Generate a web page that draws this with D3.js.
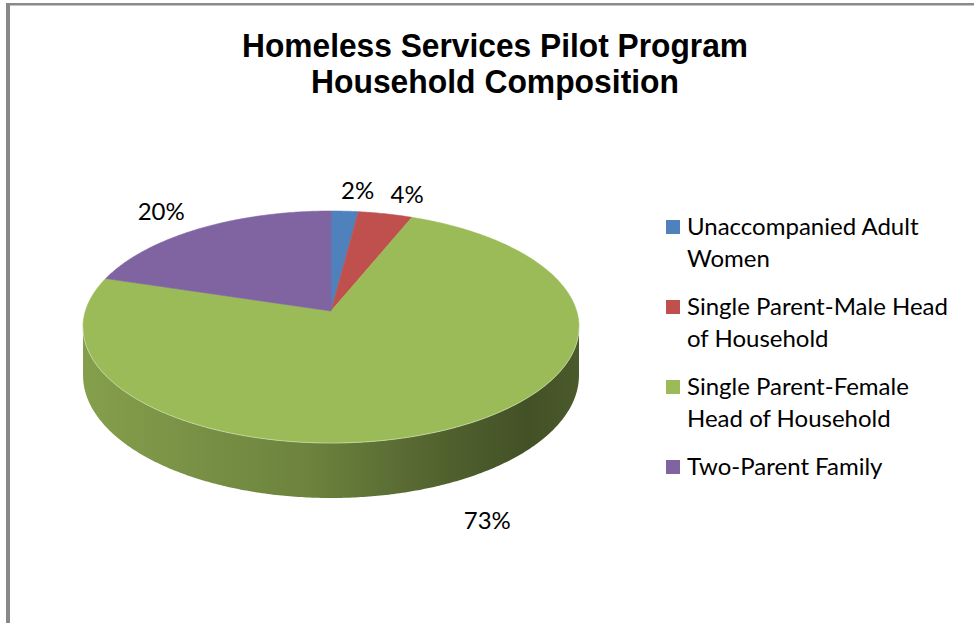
<!DOCTYPE html>
<html>
<head>
<meta charset="utf-8">
<script src="https://cdn.jsdelivr.net/npm/d3@7"></script>
<style>
  html, body { margin: 0; padding: 0; background: #fff; }
  svg { display: block; }
</style>
</head>
<body>
<svg id="chart" width="974" height="623"></svg>
<script>
// ---- data ----
const titleLines = ["Homeless Services Pilot Program", "Household Composition"];
const categories = [
  "Unaccompanied Adult Women",
  "Single Parent-Male Head of Household",
  "Single Parent-Female Head of Household",
  "Two-Parent Family"
];
const legendLines = [
  ["Unaccompanied Adult", "Women"],
  ["Single Parent-Male Head", "of Household"],
  ["Single Parent-Female", "Head of Household"],
  ["Two-Parent Family"]
];
const values = [2, 4, 73, 20];           // percent of households
const colors = ["#4F81BD", "#C0504D", "#9BBB59", "#8064A2"];

// ---- setup ----
const svg = d3.select("#chart");
const W = 974, H = 623;
const labelFont = "Lato, 'Open Sans', sans-serif";

// chart frame (grey rule along the top and left)
svg.append("rect").attr("x", 6).attr("y", 3).attr("width", W - 6).attr("height", 2.5).attr("fill", "#8a8a8a");
svg.append("rect").attr("x", 6).attr("y", 3).attr("width", 4).attr("height", H - 3).attr("fill", "#888");

// title
svg.append("g").selectAll("text")
  .data(titleLines)
  .join("text")
  .attr("x", 495)
  .attr("y", (d, i) => 57 + i * 36)
  .attr("text-anchor", "middle")
  .attr("font-family", "'Liberation Sans', Arial, sans-serif")
  .attr("font-weight", "bold")
  .attr("font-size", 33)
  .attr("textLength", (d, i) => i === 0 ? 506 : 368)
  .attr("lengthAdjust", "spacingAndGlyphs")
  .attr("fill", "#000")
  .text(d => d);

// ---- 3D pie in perspective ----
const CX = 331, CY = 311;      // projected centre of the disc
const A = 245.6, B = 113.8;    // horizontal / vertical scale
const P = 0.138;               // perspective strength (near side larger)
const THICK = 47.4;            // disc thickness before perspective

// project a point of the disc (radius fraction r, pie angle t) to screen;
// lower = true gives the matching point on the underside of the disc
function project(r, t, lower = false) {
  const u = r * Math.sin(t), v = -r * Math.cos(t);
  const den = 1 - P * v;
  return [CX + A * u / den, CY + B * v / den + (lower ? THICK / den : 0)];
}

const color = d3.scaleOrdinal().domain(categories).range(colors);
const pie = d3.pie().sort(null).value(d => d.value);
const arcs = pie(categories.map((c, i) => ({ name: c, value: values[i] })));

function rimPoints(a0, a1, lower) {
  const n = Math.max(2, Math.ceil((a1 - a0) / 0.01));
  return d3.range(n + 1).map(i => project(1, a0 + (a1 - a0) * i / n, lower));
}

// side wall visible between the two silhouette points
const T1 = Math.acos(-P), T2 = 2 * Math.PI - Math.acos(-P);
const defs = svg.append("defs");
const sideG = svg.append("g");
arcs.forEach((a, i) => {
  const lo = Math.max(a.startAngle, T1), hi = Math.min(a.endAngle, T2);
  if (lo >= hi) return;
  const base = d3.color(color(a.data.name));
  const gid = "side" + i;
  const grad = defs.append("linearGradient").attr("id", gid)
    .attr("gradientUnits", "userSpaceOnUse")
    .attr("x1", CX - A * 1.01).attr("x2", CX + A * 1.01).attr("y1", 0).attr("y2", 0);
  [[0, 0.45], [0.45, 1.0], [0.75, 1.9], [0.9, 2.35], [1, 2.05]].forEach(([o, k]) => {
    grad.append("stop").attr("offset", o).attr("stop-color", base.darker(k).formatHex());
  });
  const pts = rimPoints(lo, hi, false).concat(rimPoints(lo, hi, true).reverse());
  sideG.append("path")
    .attr("d", d3.line().curve(d3.curveLinearClosed)(pts))
    .attr("fill", `url(#${gid})`);
});

// top face slices
svg.append("g").selectAll("path")
  .data(arcs)
  .join("path")
  .attr("d", a => d3.line().curve(d3.curveLinearClosed)([[CX, CY]].concat(rimPoints(a.startAngle, a.endAngle, false))))
  .attr("fill", a => color(a.data.name))
  .attr("stroke", a => color(a.data.name))
  .attr("stroke-width", 0.6)
  .attr("stroke-linejoin", "round");

// faint highlight along the front rim of the top face
svg.append("path")
  .attr("d", d3.line()(rimPoints(T1, T2, false)))
  .attr("fill", "none")
  .attr("stroke", "rgba(255,255,255,0.35)")
  .attr("stroke-width", 1);

// percentage labels outside each slice; labels on the far side are
// pushed sideways so their text clears the rim
svg.append("g").selectAll("text")
  .data(arcs)
  .join("text")
  .each(function (a) {
    const mid = (a.startAngle + a.endAngle) / 2;
    const front = -Math.cos(mid) > P;
    let [x, y] = project(1.25, mid, front);
    if (!front) x += Math.sign(Math.sin(mid)) * 10;
    d3.select(this).attr("x", x).attr("y", y);
  })
  .attr("text-anchor", "middle")
  .attr("dominant-baseline", "central")
  .attr("font-family", labelFont)
  .attr("font-size", 24)
  .attr("fill", "#000")
  .text(a => a.data.value + "%");

// legend
const ly = d3.scaleLinear().domain([0, categories.length - 1]).range([235, 475]);
const legend = svg.append("g").selectAll("g")
  .data(categories)
  .join("g")
  .attr("transform", (d, i) => `translate(666,${ly(i)})`);
legend.append("rect")
  .attr("x", 0).attr("y", -15).attr("width", 14).attr("height", 14)
  .attr("fill", d => color(d));
legend.append("text")
  .attr("font-family", labelFont)
  .attr("font-size", 24)
  .attr("fill", "#000")
  .selectAll("tspan")
  .data((d, i) => legendLines[i])
  .join("tspan")
  .attr("x", 21)
  .attr("y", (d, j) => j * 32)
  .text(d => d);
</script>
</body>
</html>
